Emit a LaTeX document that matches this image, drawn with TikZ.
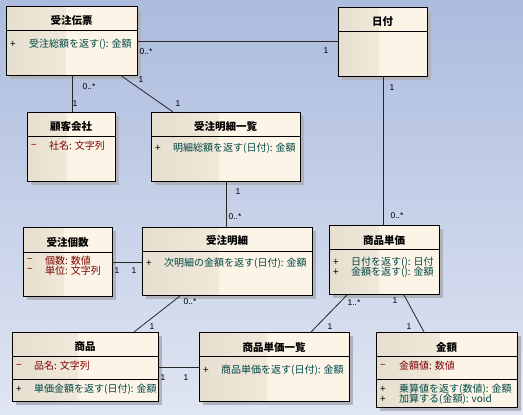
\documentclass[tikz,border=0pt]{standalone}
\usepackage{fontspec}
\setmainfont{Noto Sans CJK JP}
\newfontfamily\labfont{Liberation Sans}
\usetikzlibrary{shadows,calc}
\definecolor{bgTop}{RGB}{172,188,222}
\definecolor{bgBot}{RGB}{224,229,242}
\definecolor{boxL}{RGB}{230,222,206}
\definecolor{boxR}{RGB}{252,244,230}
\definecolor{attrc}{RGB}{128,0,0}
\definecolor{opc}{RGB}{0,70,70}
\definecolor{shadowc}{RGB}{176,178,188}
\begin{document}
\begin{tikzpicture}[x=1pt,y=-1pt,
 cls/.style={draw=black, line width=1pt, anchor=north west, inner sep=0pt, fill=boxR,
   drop shadow={shadow xshift=3.5pt, shadow yshift=-3.5pt, fill=shadowc, opacity=1},
   path picture={\shade[left color=boxL,right color=boxR] (path picture bounding box.north west) rectangle ($(path picture bounding box.south west)!0.45!(path picture bounding box.south east)$);}},
 divl/.style={line width=1pt},
 ttl/.style={font=\bfseries\fontsize{10.5}{11}\selectfont, inner sep=0pt},
 sgn/.style={font=\fontsize{10}{10}\selectfont, inner sep=0pt},
 attr/.style={text=attrc, font=\fontsize{10}{10}\selectfont, inner sep=0pt, anchor=west},
 op/.style={text=opc, font=\fontsize{10}{10}\selectfont, inner sep=0pt, anchor=west},
 conn/.style={line width=0.8pt, draw=black!85},
 mult/.style={font=\labfont\fontsize{8.5}{9}\selectfont, inner sep=0pt}]
\useasboundingbox (0,0) rectangle (523,415);
\shade[top color=bgTop, bottom color=bgBot] (0,0) rectangle (523,415);

% classes
\node[cls, minimum width=131pt, minimum height=69pt] (denpyo) at (6,6) {};
\node[cls, minimum width=89pt, minimum height=69pt] (hiduke) at (338,7) {};
\node[cls, minimum width=88pt, minimum height=69pt] (kokyaku) at (27,112) {};
\node[cls, minimum width=149pt, minimum height=69pt] (ichiran) at (151,112) {};
\node[cls, minimum width=89pt, minimum height=69pt] (kosu) at (23,227) {};
\node[cls, minimum width=170pt, minimum height=68pt] (meisai) at (142,227) {};
\node[cls, minimum width=110pt, minimum height=69pt] (tanka) at (329,225) {};
\node[cls, minimum width=146pt, minimum height=69pt] (shohin) at (12,332) {};
\node[cls, minimum width=150pt, minimum height=69pt] (tichiran) at (199,332) {};
\node[cls, minimum width=141pt, minimum height=75pt] (kingaku) at (376,332) {};

% dividers
\draw[divl] ($(denpyo.north west)+(0,24)$) -- ($(denpyo.north east)+(0,24)$);
\draw[divl] ($(hiduke.north west)+(0,24.5)$) -- ($(hiduke.north east)+(0,24.5)$);
\draw[divl] ($(kokyaku.north west)+(0,24)$) -- ($(kokyaku.north east)+(0,24)$);
\draw[divl] ($(ichiran.north west)+(0,24)$) -- ($(ichiran.north east)+(0,24)$);
\draw[divl] ($(kosu.north west)+(0,25)$) -- ($(kosu.north east)+(0,25)$);
\draw[divl] ($(meisai.north west)+(0,24)$) -- ($(meisai.north east)+(0,24)$);
\draw[divl] ($(tanka.north west)+(0,24)$) -- ($(tanka.north east)+(0,24)$);
\draw[divl] ($(shohin.north west)+(0,24)$) -- ($(shohin.north east)+(0,24)$);
\draw[divl] ($(shohin.north west)+(0,47)$) -- ($(shohin.north east)+(0,47)$);
\draw[divl] ($(tichiran.north west)+(0,24)$) -- ($(tichiran.north east)+(0,24)$);
\draw[divl] ($(kingaku.north west)+(0,24)$) -- ($(kingaku.north east)+(0,24)$);
\draw[divl] ($(kingaku.north west)+(0,47)$) -- ($(kingaku.north east)+(0,47)$);

% titles
\node[ttl] (t1) at (71.5,20) {受注伝票};
\node[ttl] (t2) at (382.5,22) {日付};
\node[ttl] (t3) at (71,127) {顧客会社};
\node[ttl] (t4) at (225.5,127) {受注明細一覧};
\node[ttl] (t5) at (67.5,242) {受注個数};
\node[ttl] (t6) at (227,241) {受注明細};
\node[ttl] (t7) at (384,240) {商品単価};
\node[ttl] (t8) at (85,347) {商品};
\node[ttl] (t9) at (274,347) {商品単価一覧};
\node[ttl] (t10) at (446.5,347) {金額};

% members
\node[sgn] (s1) at (13,44) {+};
\node[op] (o1) at (29,44) {受注総額を返す(): 金額};
\node[sgn, text=attrc] (s3) at (34,146) {−};
\node[attr] (a3) at (49,146) {社名: 文字列};
\node[sgn] (s4) at (158,148) {+};
\node[op] (o4) at (173,148) {明細総額を返す(日付): 金額};
\node[sgn, text=attrc] (s5a) at (30,260.5) {−};
\node[attr] (a5a) at (45,260.5) {個数: 数値};
\node[sgn, text=attrc] (s5b) at (30,270.5) {−};
\node[attr] (a5b) at (45,270.5) {単位: 文字列};
\node[sgn] (s6) at (149,263) {+};
\node[op] (o6) at (164,263) {次明細の金額を返す(日付): 金額};
\node[sgn] (s7a) at (336,262) {+};
\node[op] (o7a) at (351,262) {日付を返す(): 日付};
\node[sgn] (s7b) at (336,272) {+};
\node[op] (o7b) at (351,272) {金額を返す(): 金額};
\node[sgn, text=attrc] (s8a) at (19,366) {−};
\node[attr] (a8a) at (34,366) {品名: 文字列};
\node[sgn] (s8b) at (19,389) {+};
\node[op] (o8b) at (34,389) {単価金額を返す(日付): 金額};
\node[sgn] (s9) at (206,370) {+};
\node[op] (o9) at (221,370) {商品単価を返す(日付): 金額};
\node[sgn, text=attrc] (s10a) at (383,366) {−};
\node[attr] (a10a) at (399,366) {金額値: 数値};
\node[sgn] (s10b) at (383,389) {+};
\node[op] (o10b) at (399,389) {乗算値を返す(数値): 金額};
\node[sgn] (s10c) at (383,399) {+};
\node[op] (o10c) at (399,399) {加算する(金額): void};

% connectors
\draw[conn] (denpyo.east) -- (denpyo.east -| hiduke.west);
\draw[conn] (denpyo.south) -- (denpyo.south |- kokyaku.north);
\draw[conn] ($(denpyo.south)!0.75!(denpyo.south east)$) -- ($(ichiran.north west)+(22,0)$);
\draw[conn] (ichiran.south) -- (ichiran.south |- meisai.north);
\draw[conn] (kosu.east) -- (kosu.east -| meisai.west);
\draw[conn] ($(meisai.south west)+(38,0)$) -- ($(shohin.north east)+(-25,0)$);
\draw[conn] (shohin.east) -- (shohin.east -| tichiran.west);
\draw[conn] (hiduke.south) -- (hiduke.south |- tanka.north);
\draw[conn] ($(tanka.south west)+(18,0)$) -- ($(tichiran.north east)+(-39,0)$);
\draw[conn] ($(tanka.south east)+(-36,0)$) -- ($(kingaku.north west)+(48,0)$);

% multiplicities
\node[mult] (m1) at (146,52) {0..*};
\node[mult] (m2) at (326,51) {1};
\node[mult] (m3) at (89,87) {0..*};
\node[mult] (m4) at (75,104) {1};
\node[mult] (m5) at (141,80) {1};
\node[mult] (m6) at (178,104) {1};
\node[mult] (m7) at (238,192) {1};
\node[mult] (m8) at (235,217) {0..*};
\node[mult] (m9) at (117,271) {1};
\node[mult] (m10) at (134,271) {1};
\node[mult] (m11) at (190,302) {0..*};
\node[mult] (m12) at (152,327) {1};
\node[mult] (m13) at (163,378) {1};
\node[mult] (m14) at (186,378) {1};
\node[mult] (m15) at (392,88) {1};
\node[mult] (m16) at (397,216) {0..*};
\node[mult] (m17) at (354,303) {1..*};
\node[mult] (m18) at (330,327) {1};
\node[mult] (m19) at (395,301) {1};
\node[mult] (m20) at (409,327) {1};
\end{tikzpicture}
\end{document}
